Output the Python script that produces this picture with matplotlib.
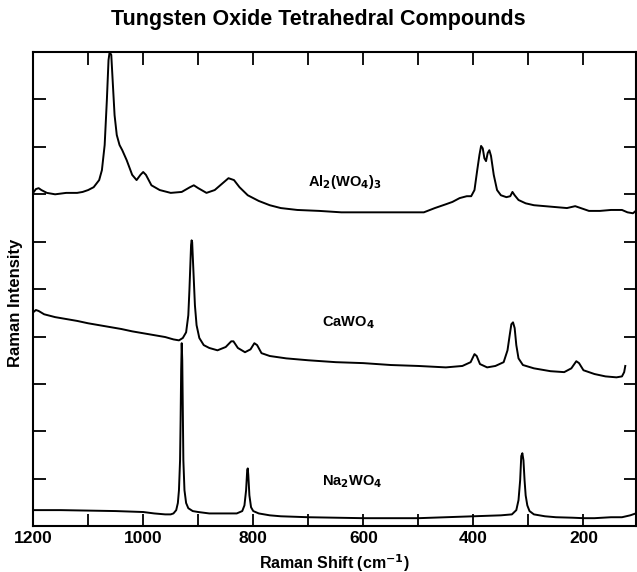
import matplotlib
matplotlib.use("Agg")
import matplotlib.pyplot as plt
import numpy as np

plt.rcParams['font.family'] = ['Liberation Sans', 'DejaVu Sans']
plt.rcParams['font.weight'] = 'bold'

# Raman shift (cm-1) and intensity (arbitrary, offset stacked) for each compound
na_shift = [1200, 1150, 1100, 1050, 1000, 980, 960, 950, 945, 940, 937, 935, 933, 932, 931, 930,
            929, 928, 927, 925, 922, 918, 910, 900, 880, 850, 830, 820, 816, 813, 811, 810, 809,
            807, 804, 800, 790, 770, 750, 700, 650, 600, 550, 500, 450, 400, 350, 330, 322, 318,
            315, 313, 311, 309, 307, 305, 302, 298, 290, 270, 250, 220, 200, 180, 150, 130, 115, 105]
na_int = [0.34, 0.34, 0.33, 0.32, 0.30, 0.27, 0.25, 0.25, 0.27, 0.34, 0.49, 0.76, 1.39, 2.24,
          3.29, 3.86, 3.50, 2.45, 1.39, 0.76, 0.49, 0.38, 0.32, 0.30, 0.27, 0.27, 0.27, 0.32,
          0.44, 0.76, 1.18, 1.22, 1.08, 0.65, 0.40, 0.32, 0.27, 0.23, 0.21, 0.19, 0.18, 0.17,
          0.17, 0.17, 0.19, 0.21, 0.23, 0.25, 0.34, 0.55, 0.97, 1.48, 1.54, 1.39, 0.97, 0.65,
          0.44, 0.32, 0.25, 0.21, 0.19, 0.18, 0.17, 0.17, 0.19, 0.19, 0.23, 0.27]

ca_shift = [1200, 1195, 1190, 1180, 1160, 1140, 1120, 1100, 1080, 1060, 1040, 1020, 1000, 980,
            960, 945, 935, 928, 922, 918, 916, 914, 913, 912, 911, 910, 908, 906, 903, 898, 890,
            880, 865, 850, 840, 836, 828, 815, 805, 798, 793, 785, 770, 740, 700, 650, 600, 550,
            500, 450, 420, 405, 398, 394, 388, 375, 360, 345, 338, 334, 331, 328, 325, 322, 318,
            310, 290, 260, 235, 222, 213, 208, 200, 180, 160, 140, 130, 126, 124]
ca_int = [4.51, 4.56, 4.54, 4.47, 4.41, 4.37, 4.33, 4.28, 4.24, 4.20, 4.16, 4.11, 4.07, 4.03,
          3.99, 3.94, 3.92, 3.97, 4.09, 4.45, 4.98, 5.61, 5.93, 6.03, 5.99, 5.72, 5.19, 4.66,
          4.24, 3.97, 3.82, 3.76, 3.71, 3.78, 3.90, 3.90, 3.76, 3.67, 3.73, 3.86, 3.82, 3.65,
          3.59, 3.54, 3.50, 3.46, 3.44, 3.40, 3.38, 3.35, 3.38, 3.46, 3.63, 3.59, 3.42, 3.35,
          3.38, 3.46, 3.71, 4.03, 4.26, 4.30, 4.18, 3.82, 3.54, 3.40, 3.33, 3.27, 3.25, 3.33,
          3.48, 3.44, 3.29, 3.21, 3.16, 3.14, 3.16, 3.25, 3.38]

al_shift = [1200, 1195, 1190, 1185, 1175, 1160, 1140, 1120, 1110, 1100, 1090, 1080, 1075, 1070,
            1066, 1063, 1061, 1058, 1055, 1052, 1048, 1043, 1038, 1030, 1020, 1012, 1005, 1000,
            995, 985, 970, 950, 930, 915, 908, 900, 885, 870, 855, 845, 835, 825, 810, 790, 770,
            750, 720, 680, 640, 600, 560, 520, 490, 470, 450, 438, 425, 412, 404, 398, 393, 389,
            386, 383, 380, 377, 374, 371, 368, 363, 357, 350, 340, 333, 329, 325, 318, 305, 290,
            270, 250, 230, 215, 205, 190, 170, 150, 130, 120, 110, 105]
al_int = [7.03, 7.11, 7.13, 7.09, 7.03, 7.00, 7.03, 7.03, 7.05, 7.09, 7.15, 7.30, 7.51, 8.04,
          8.99, 9.83, 10.0, 9.94, 9.30, 8.67, 8.25, 8.04, 7.93, 7.72, 7.41, 7.30, 7.41, 7.47,
          7.41, 7.19, 7.09, 7.03, 7.05, 7.15, 7.19, 7.13, 7.03, 7.09, 7.24, 7.34, 7.30, 7.15,
          6.98, 6.86, 6.77, 6.71, 6.67, 6.65, 6.62, 6.62, 6.62, 6.62, 6.62, 6.71, 6.79, 6.84,
          6.92, 6.96, 6.96, 7.09, 7.51, 7.83, 8.02, 7.97, 7.76, 7.70, 7.87, 7.93, 7.81, 7.41,
          7.09, 6.98, 6.94, 6.96, 7.05, 6.98, 6.88, 6.81, 6.77, 6.75, 6.73, 6.71, 6.75, 6.71,
          6.65, 6.65, 6.67, 6.67, 6.62, 6.60, 6.65]

labels = ["Al$_2$(WO$_4$)$_3$", "CaWO$_4$", "Na$_2$WO$_4$"]
label_pos = [(633, 7.26), (628, 4.30), (621, 0.93)]

x_ticks = list(range(1200, 100, -100))
x_ticklabels = ["1200", "", "1000", "", "800", "", "600", "", "400", "", "200"]

fig = plt.figure(figsize=(6.37, 5.72), dpi=100)
ax = fig.add_axes([0.052, 0.080, 0.946, 0.829])

for xs, ys in [(al_shift, al_int), (ca_shift, ca_int), (na_shift, na_int)]:
    ax.plot(xs, ys, color='black', lw=1.4, clip_on=True)

for lab, (xp, yp) in zip(labels, label_pos):
    ax.text(xp, yp, lab, ha='center', va='center', fontsize=10.5, fontweight='bold')

ax.set_xlim(1200, 105)
ax.set_ylim(0, 10)
ax.set_xticks(x_ticks)
ax.set_xticklabels(x_ticklabels)
ax.set_yticks(range(0, 11))
ax.set_yticklabels([])
ax.tick_params(direction='in', length=9, width=1.3, top=True, right=True,
               labelsize=12.5, pad=3.5)
for t in ax.get_xticklabels():
    t.set_fontweight('bold')
for sp in ax.spines.values():
    sp.set_linewidth(1.5)

ax.set_xlabel("Raman Shift (cm$^{-1}$)", fontsize=11.5, fontweight='bold')
ax.xaxis.set_label_coords(0.5, -0.054)
ax.set_ylabel("Raman Intensity", fontsize=12, fontweight='bold')
ax.yaxis.set_label_coords(-0.016, 0.47)
fig.text(0.5, 1 - 19 / 572, "Tungsten Oxide Tetrahedral Compounds", ha='center', va='center',
         fontsize=15.5, fontweight='bold')

fig.savefig("out.png", dpi=100)
